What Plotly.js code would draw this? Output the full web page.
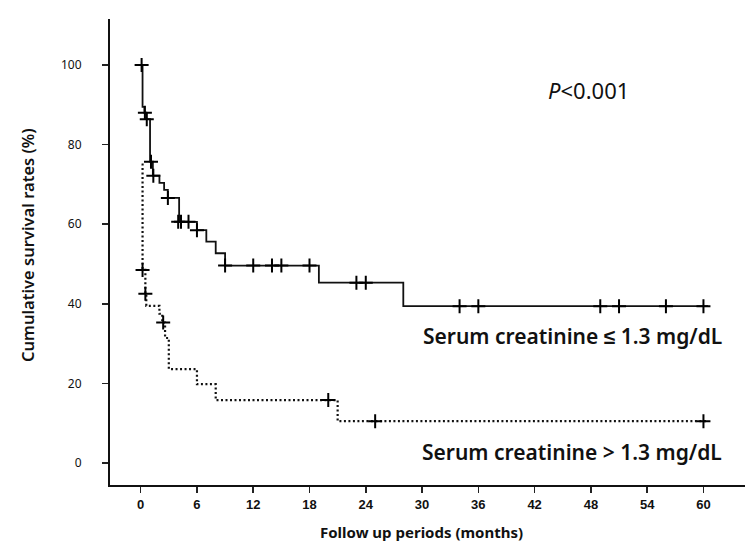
<!DOCTYPE html>
<html>
<head>
<meta charset="utf-8">
<script src="https://cdn.plot.ly/plotly-3.0.1.min.js"></script>
<style>
  body { margin: 0; background: #fff; }
  #PLOT { width: 750px; height: 555px; }
</style>
</head>
<body>
<div id="PLOT"></div>
<script>
// Serum creatinine <= 1.3 mg/dL (step curve, survival starts at each time)
var lowTimes = [0.1, 0.2, 0.4, 0.6, 1.0, 1.3, 2.0, 2.5, 2.9, 4.1, 6.0, 7.0, 8.0, 9.0, 19.0, 28.0, 60.5];
var lowSurv  = [100, 89.5, 88, 86.4, 75.7, 72.2, 70.4, 68.6, 66.6, 60.6, 58.5, 55.6, 52.7, 49.6, 45.3, 39.4, 39.4];
var lowCensorT = [0.1, 0.45, 0.65, 1.1, 1.35, 2.9, 4.0, 4.3, 5.1, 6.0, 9.0, 12, 14, 15, 18, 23, 24, 34, 36, 49, 51, 56, 60];
var lowCensorS = [100, 88, 86.4, 75.7, 72.2, 66.6, 60.6, 60.6, 60.6, 58.5, 49.6, 49.6, 49.6, 49.6, 49.6, 45.3, 45.3, 39.4, 39.4, 39.4, 39.4, 39.4, 39.4];

// Serum creatinine > 1.3 mg/dL
var highTimes = [0.1, 0.2, 0.5, 0.6, 2.0, 2.3, 2.6, 3.0, 6.0, 8.0, 21.0, 60.4];
var highSurv  = [75, 48.5, 42.5, 39.5, 37.5, 35.3, 31.4, 23.6, 19.8, 15.8, 10.5, 10.5];
var highCensorT = [0.2, 0.5, 2.4, 20, 25, 60];
var highCensorS = [48.5, 42.5, 35.3, 15.8, 10.5, 10.5];

var xTicks = [0, 6, 12, 18, 24, 30, 36, 42, 48, 54, 60];
var yTicks = [0, 20, 40, 60, 80, 100];

var censorMarker = {
  symbol: 'cross-thin',
  size: 10,
  color: '#000',
  line: { color: '#000', width: 2 }
};

var traces = [
  {
    x: lowTimes, y: lowSurv, type: 'scatter', mode: 'lines',
    line: { shape: 'hv', color: '#111', width: 1.8 },
    hoverinfo: 'x+y'
  },
  {
    x: lowCensorT, y: lowCensorS, type: 'scatter', mode: 'markers',
    marker: censorMarker, hoverinfo: 'x+y'
  },
  {
    x: highTimes, y: highSurv, type: 'scatter', mode: 'lines',
    line: { shape: 'hv', color: '#111', width: 2.2, dash: '2px,2.5px' },
    hoverinfo: 'x+y'
  },
  {
    x: highCensorT, y: highCensorS, type: 'scatter', mode: 'markers',
    marker: censorMarker, hoverinfo: 'x+y'
  }
];

var labelFont = { family: 'Noto Sans, sans-serif', size: 21, color: '#111', weight: 600 };

var layout = {
  width: 750,
  height: 555,
  margin: { l: 110, r: 5, t: 19, b: 70 },
  paper_bgcolor: '#fff',
  plot_bgcolor: '#fff',
  showlegend: false,
  xaxis: {
    range: [-3.27, 64.43],
    tickvals: xTicks,
    ticktext: xTicks.map(String),
    ticks: 'outside', ticklen: 6, tickwidth: 1.5, tickcolor: '#222',
    showline: true, linecolor: '#111', linewidth: 2,
    showgrid: false, zeroline: false,
    tickfont: { family: 'Liberation Sans Narrow, Arial Narrow, sans-serif', size: 13, color: '#111', weight: 'bold' }
  },
  yaxis: {
    range: [-5.53, 111.56],
    tickvals: yTicks,
    ticktext: yTicks.map(String),
    ticks: 'outside', ticklen: 6, tickwidth: 1.5, tickcolor: '#222',
    ticklabelstandoff: 18,
    showline: true, linecolor: '#111', linewidth: 2,
    showgrid: false, zeroline: false,
    tickfont: { family: 'Noto Sans, sans-serif', size: 12, color: '#111' }
  },
  annotations: [
    {
      text: 'Cumulative survival rates (%)', xref: 'paper', yref: 'paper',
      x: -0.1307, y: 0.515, xanchor: 'center', yanchor: 'middle',
      textangle: -90, showarrow: false,
      font: { family: 'Noto Sans, sans-serif', size: 16.5, color: '#111', weight: 600 }
    },
    {
      text: 'Follow up periods (months)', xref: 'paper', yref: 'paper',
      x: 0.49, y: -0.1, xanchor: 'center', yanchor: 'middle', showarrow: false,
      font: { family: 'Noto Sans, sans-serif', size: 15, color: '#111', weight: 'bold' }
    },
    {
      text: '<i>P</i><0.001', xref: 'paper', yref: 'paper',
      x: 0.753, y: 0.848, xanchor: 'center', yanchor: 'middle', showarrow: false,
      font: { family: 'Noto Sans, sans-serif', size: 22, color: '#111' }
    },
    {
      text: 'Serum creatinine ≤ 1.3 mg/dL', xref: 'paper', yref: 'paper',
      x: 0.728, y: 0.32, xanchor: 'center', yanchor: 'middle', showarrow: false,
      font: labelFont
    },
    {
      text: 'Serum creatinine > 1.3 mg/dL', xref: 'paper', yref: 'paper',
      x: 0.728, y: 0.071, xanchor: 'center', yanchor: 'middle', showarrow: false,
      font: labelFont
    }
  ]
};

Plotly.newPlot('PLOT', traces, layout, { displayModeBar: false, staticPlot: true });
</script>
</body>
</html>
